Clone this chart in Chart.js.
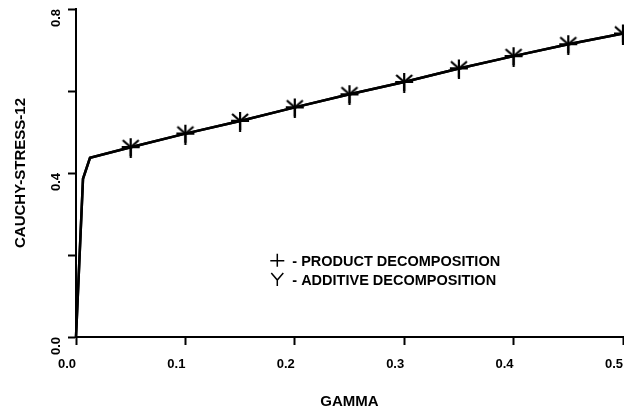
<!DOCTYPE html>
<html>
<head>
<meta charset="utf-8">
<script src="https://cdn.jsdelivr.net/npm/chart.js@4/dist/chart.umd.min.js"></script>
<style>
  body { margin: 0; background: #fff; }
</style>
</head>
<body>
<canvas id="stress" width="624" height="415"></canvas>
<script>
// gamma values (first three points are the steep elastic part, no markers)
const gamma = [0, 0.0064, 0.0128, 0.05, 0.1, 0.15, 0.2, 0.25, 0.3, 0.35, 0.4, 0.45, 0.5];
const productStress = [0, 0.386, 0.437, 0.463, 0.496, 0.527, 0.560, 0.592, 0.622, 0.655, 0.685, 0.714, 0.740];
const additiveStress = [0, 0.386, 0.437, 0.463, 0.496, 0.527, 0.560, 0.592, 0.622, 0.655, 0.685, 0.714, 0.740];
const xTicks = ['0.0', '0.1', '0.2', '0.3', '0.4', '0.5'];
const yTicks = ['0.0', '0.4', '0.8'];

const FONT = '"Liberation Sans", Arial, sans-serif';

// "Y" shaped marker for the additive decomposition
function yMarker() {
    const c = document.createElement('canvas');
    c.width = 20; c.height = 22;
    const g = c.getContext('2d');
    g.strokeStyle = '#000';
    g.lineWidth = 2.2;
    g.beginPath();
    g.moveTo(2, 4); g.lineTo(10, 11); g.lineTo(18, 4);
    g.moveTo(10, 11); g.lineTo(10, 22);
    g.stroke();
    return c;
}
const yStyle = yMarker();

const noMarkUntil = 3;

// legend drawn inside the plot, like the original figure
const legendInside = {
    id: 'legendInside',
    afterDraw(chart) {
        const ctx = chart.ctx;
        const x0 = chart.scales.x.getPixelForValue(0.184);
        const rows = [chart.scales.y.getPixelForValue(0.186), chart.scales.y.getPixelForValue(0.139)];
        ctx.save();
        ctx.fillStyle = '#000';
        ctx.strokeStyle = '#000';
        ctx.lineWidth = 1.5;
        ctx.font = 'bold 14.5px ' + FONT;
        ctx.textBaseline = 'middle';
        chart.data.datasets.forEach((ds, i) => {
            const y = rows[i];
            ctx.beginPath();
            if (i === 0) {
                ctx.moveTo(x0 - 7, y); ctx.lineTo(x0 + 7, y);
                ctx.moveTo(x0, y - 7); ctx.lineTo(x0, y + 6);
            } else {
                ctx.moveTo(x0 - 6, y - 7); ctx.lineTo(x0, y);
                ctx.lineTo(x0 + 6, y - 7);
                ctx.moveTo(x0, y); ctx.lineTo(x0, y + 6);
            }
            ctx.stroke();
            ctx.fillText('- ' + ds.label, x0 + 15, y + 1);
        });
        ctx.restore();
    }
};

new Chart(document.getElementById('stress'), {
    type: 'scatter',
    data: {
        datasets: [
            {
                label: 'PRODUCT DECOMPOSITION',
                data: gamma.map((g, i) => ({ x: g, y: productStress[i] })),
                showLine: true,
                borderColor: '#000',
                borderWidth: 2.5,
                pointStyle: 'cross',
                pointRadius: ctx => ctx.dataIndex < noMarkUntil ? 0 : 9,
                pointBorderWidth: 2.2,
                pointBorderColor: '#000',
                clip: false
            },
            {
                label: 'ADDITIVE DECOMPOSITION',
                data: gamma.map((g, i) => ({ x: g, y: additiveStress[i] })),
                showLine: true,
                borderColor: '#000',
                borderWidth: 2.5,
                pointStyle: yStyle,
                pointRadius: ctx => ctx.dataIndex < noMarkUntil ? 0 : 9,
                clip: false
            }
        ]
    },
    options: {
        responsive: false,
        devicePixelRatio: 1,
        animation: false,
        layout: { autoPadding: false, padding: { top: 9, right: 1, left: 0, bottom: 0 } },
        plugins: {
            legend: { display: false },
            tooltip: { enabled: false }
        },
        scales: {
            x: {
                type: 'linear',
                min: 0,
                max: 0.5,
                afterFit: s => { s.height = 78; s.paddingLeft = 0; s.paddingRight = 0; },
                ticks: {
                    stepSize: 0.1,
                    color: '#000',
                    align: 'end',
                    padding: 12,
                    font: { family: FONT, size: 13, weight: 'bold' },
                    callback: v => xTicks[Math.round(v * 10)] ?? ''
                },
                grid: { drawOnChartArea: false, tickLength: 8, tickWidth: 2, tickColor: '#000' },
                border: { color: '#000', width: 2 },
                title: {
                    display: true,
                    text: 'GAMMA',
                    color: '#000',
                    font: { family: FONT, size: 15, weight: 'bold' },
                    padding: { top: 14 }
                }
            },
            y: {
                min: 0,
                max: 0.8,
                afterFit: s => { s.width = 76; s.paddingTop = 0; s.paddingBottom = 0; },
                ticks: {
                    stepSize: 0.2,
                    color: '#000',
                    minRotation: 90,
                    maxRotation: 90,
                    crossAlign: 'near',
                    padding: 12,
                    font: { family: FONT, size: 13, weight: 'bold' },
                    callback: v => {
                        const k = Math.round(v * 10);
                        return k % 4 === 0 ? yTicks[k / 4] : '';
                    }
                },
                grid: { drawOnChartArea: false, tickLength: 8, tickWidth: 2, tickColor: '#000' },
                border: { color: '#000', width: 2 },
                title: {
                    display: true,
                    text: 'CAUCHY-STRESS-12',
                    color: '#000',
                    font: { family: FONT, size: 15, weight: 'bold' },
                    padding: { bottom: 0, top: 12 }
                }
            }
        }
    },
    plugins: [legendInside]
});
</script>
</body>
</html>
